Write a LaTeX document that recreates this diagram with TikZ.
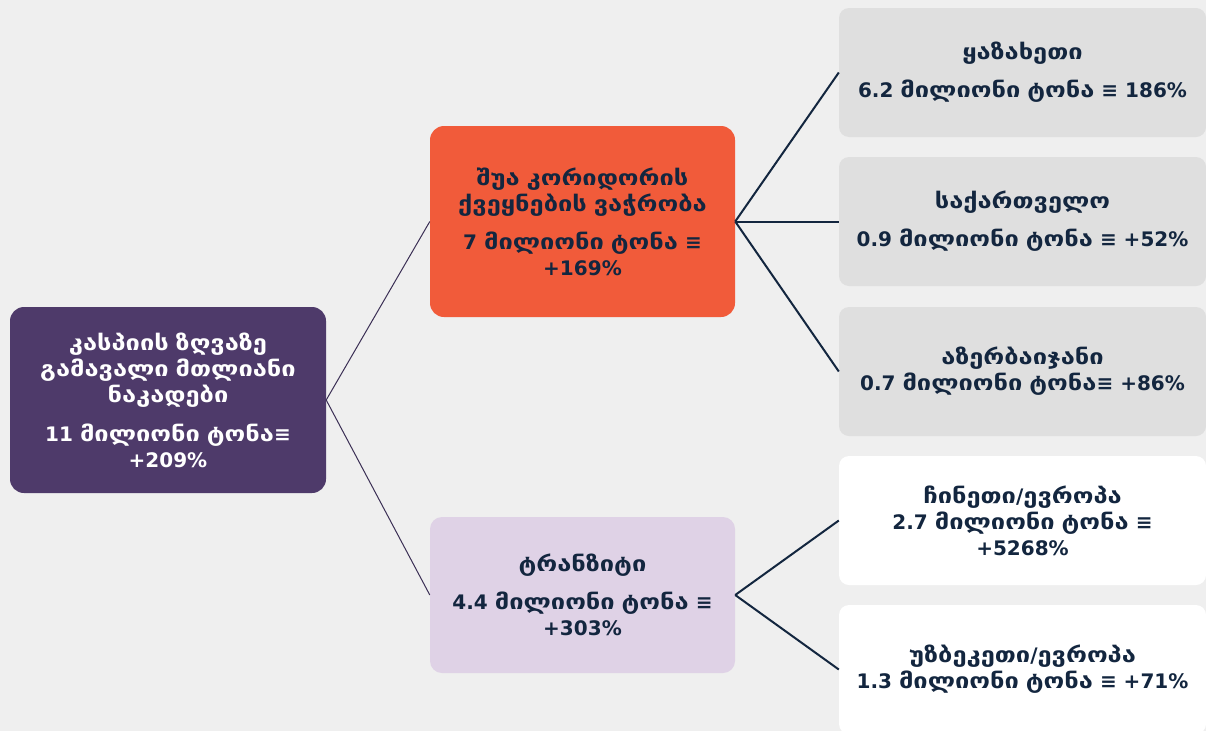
\documentclass[tikz,border=0pt]{standalone}
\usepackage{fontspec}
\setmainfont{DejaVu Sans}
\newfontfamily\geofont[Scale=1.06,FakeStretch=1.2]{DejaVu Sans}
\newcount\geoc
\def\mapgeo#1{%
  \begingroup\lccode`\~=#1\relax
  \lowercase{\endgroup\edef~}{{\noexpand\geofont\noexpand\iffontchar\noexpand\font\the\numexpr#1+3008\relax\space\noexpand\char\the\numexpr#1+3008\relax\space\noexpand\else\noexpand\char#1\space\noexpand\fi}}%
  \catcode#1=13\relax}
\geoc=4304
\loop\mapgeo{\the\geoc}\advance\geoc by 1 \ifnum\geoc<4337 \repeat
\definecolor{bg}{HTML}{EFEFEF}
\definecolor{rootc}{HTML}{4E3A6A}
\definecolor{orangec}{HTML}{F15B3A}
\definecolor{lavc}{HTML}{DFD2E6}
\definecolor{grayc}{HTML}{DFDFDF}
\definecolor{navy}{HTML}{13263F}
\definecolor{thinline}{HTML}{3B2F55}
\tikzset{
  box/.style={rectangle, rounded corners=10pt, inner sep=0pt, align=center,
    font=\fontsize{20}{26}\selectfont\bfseries, text=navy},
  rightbox/.style={box, minimum width=367pt, minimum height=129pt},
  thin link/.style={draw=thinline, line width=1pt},
  thick link/.style={draw=navy, line width=2pt},
}
\begin{document}
\begin{tikzpicture}[x=1pt,y=-1pt]
\fill[bg] (0,0) rectangle (1206,731);
\useasboundingbox (0,0) rectangle (1206,731);
\node[box, fill=rootc, text=white, rounded corners=14pt, minimum width=316pt, minimum height=186pt] (root) at (168,400)
  {კასპიის ზღვაზე\\გამავალი მთლიანი\\ნაკადები\\[13pt]11 მილიონი ტონა≡\\+209\%};
\node[box, fill=orangec, rounded corners=14pt, minimum width=305pt, minimum height=191pt] (mtop) at (582.5,221.5)
  {შუა კორიდორის\\ქვეყნების ვაჭრობა\\[12pt]7 მილიონი ტონა ≡\\+169\%};
\node[box, fill=lavc, rounded corners=12pt, minimum width=305pt, minimum height=156pt] (mbot) at (582.5,595)
  {ტრანზიტი\\[12pt]4.4 მილიონი ტონა ≡\\+303\%};
\node[rightbox, fill=grayc] (r1) at (1022.5,72.5)
  {ყაზახეთი\\[12pt]6.2 მილიონი ტონა ≡ 186\%};
\node[rightbox, fill=grayc] (r2) at (1022.5,221.5)
  {საქართველო\\[12pt]0.9 მილიონი ტონა ≡ +52\%};
\node[rightbox, fill=grayc] (r3) at (1022.5,371.5)
  {აზერბაიჯანი\\0.7 მილიონი ტონა≡ +86\%};
\node[rightbox, fill=white] (r4) at (1022.5,520.5)
  {ჩინეთი/ევროპა\\2.7 მილიონი ტონა ≡\\+5268\%};
\node[rightbox, fill=white] (r5) at (1022.5,669.5)
  {უზბეკეთი/ევროპა\\1.3 მილიონი ტონა ≡ +71\%};
\draw[thin link] (root.east) -- (mtop.west);
\draw[thin link] (root.east) -- (mbot.west);
\draw[thick link] (mtop.east) -- (r1.west);
\draw[thick link] (mtop.east) -- (r2.west);
\draw[thick link] (mtop.east) -- (r3.west);
\draw[thick link] (mbot.east) -- (r4.west);
\draw[thick link] (mbot.east) -- (r5.west);
\end{tikzpicture}
\end{document}
